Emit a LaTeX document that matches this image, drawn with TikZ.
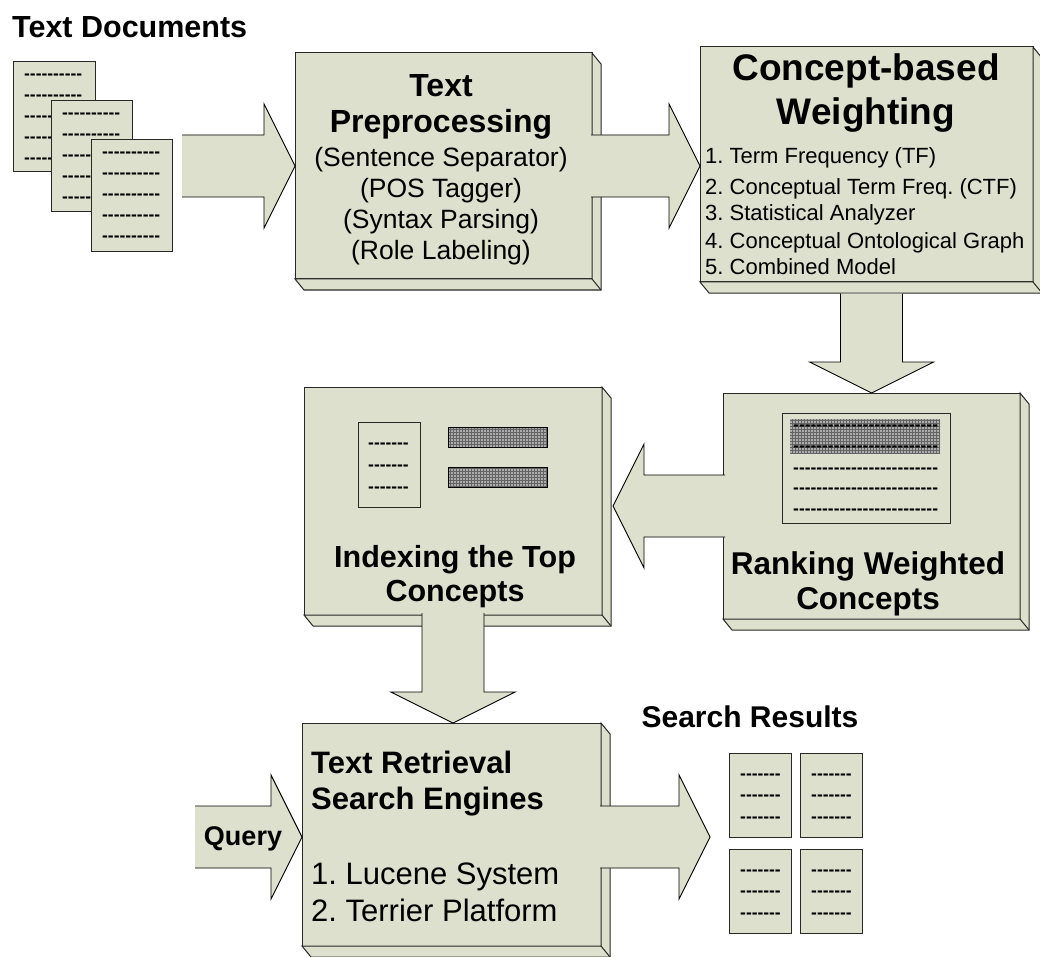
\documentclass[tikz,border=0pt]{standalone}
\usepackage{fontspec}
\setmainfont{Liberation Sans}
\frenchspacing
\usetikzlibrary{calc,fit,patterns}

\definecolor{boxgreen}{RGB}{221,224,204}
\definecolor{edgegray}{RGB}{40,40,40}
\definecolor{meshbase}{RGB}{172,172,172}
\definecolor{meshline}{RGB}{100,100,100}

\newcommand\fs[1]{\fontsize{#1}{#1}\selectfont}
% a row of separate hyphens (the kern keeps them from turning into dashes)
\newcommand\dashes[1]{\foreach\j in {1,...,#1}{-\kern0pt}}

\tikzset{
  cube/.style={draw=edgegray, fill=boxgreen, line width=1pt, inner sep=0pt, outer sep=0pt},
  cubeside/.style={draw=edgegray, fill=boxgreen, line width=1pt, line join=miter},
  page/.style={draw=edgegray, fill=boxgreen, line width=1pt, inner sep=0pt, outer sep=0pt},
  plainframe/.style={draw=edgegray, line width=1pt, inner sep=0pt, outer sep=0pt},
  meshbar/.style={fill=meshbase, inner sep=0pt, outer sep=0pt},
  meshborder/.style={draw=black, line width=0.8pt},
  arrowfill/.style={fill=boxgreen},
  arrowline/.style={draw=black, line width=0.9pt, line join=miter},
  dashrow/.style={inner sep=0pt, anchor=base west, font=\fs{17.4}\bfseries},
  lbl/.style={inner sep=0pt, anchor=base},
}

% extruded side and bottom faces of a box node
\newcommand\cubedepth[1]{%
  \path[cubeside] (#1.north east) -- ($(#1.north east)+(9,11)$) -- ($(#1.south east)+(9,11)$)
    -- ($(#1.south west)+(9,11)$) -- (#1.south west) -- (#1.south east) -- cycle;
  \draw[cubeside, fill=none] (#1.south east) -- ($(#1.south east)+(9,11)$);
}

% wide block arrow from a tail point to a tip point
\newcommand\blockarrow[2]{%
  \coordinate (ba-base) at ($(#2)!31pt!(#1)$);
  \path[arrowfill] ($(#1)!31pt!90:(#2)$) -- ($(ba-base)!31pt!90:(#2)$) -- ($(ba-base)!62pt!90:(#2)$)
    -- (#2) -- ($(ba-base)!62pt!-90:(#2)$) -- ($(ba-base)!31pt!-90:(#2)$) -- ($(#1)!31pt!-90:(#2)$) -- cycle;
  \path[arrowline] ($(#1)!31pt!90:(#2)$) -- ($(ba-base)!31pt!90:(#2)$) -- ($(ba-base)!62pt!90:(#2)$)
    -- (#2) -- ($(ba-base)!62pt!-90:(#2)$) -- ($(ba-base)!31pt!-90:(#2)$) -- ($(#1)!31pt!-90:(#2)$);
}

% a page with rows of dashes: name, corners, first row offset, row step, rows, dashes per row
\newcommand\docpage[9]{%
  \node[page, fit={(#2,#3) (#4,#5)}] (#1) {};
  \foreach \k in {1,...,#8}
    \node[dashrow] (#1-\k) at ($(#1.north west)+(11,{#6+(\k-1)*#7+5})$) {\dashes{#9}};
}

% a stacked page whose lower rows run under the next page: name, corners
\newcommand\stackpage[5]{%
  \node[page, fit={(#2,#3) (#4,#5)}] (#1) {};
  \foreach \k/\n in {1/10,2/10,3/5,4/5,5/5}
    \node[dashrow] (#1-\k) at ($(#1.north west)+(11,{13+(\k-1)*20.8+5})$) {\dashes{\n}};
}

% a grey mesh bar
\newcommand\meshbar[6]{% name, corners, extra drawing
  \node[meshbar, fit={(#2,#3) (#4,#5)}] (#1) {};
  \fill[pattern=grid, pattern color=meshline] (#1.south west) rectangle (#1.north east);
  #6
}

\begin{document}
\begin{tikzpicture}[x=1pt,y=-1pt]
\useasboundingbox (0,0) rectangle (1040,957);
\fill[white] (0,0) rectangle (1040,957);

% ---- input documents ----
\node[lbl, anchor=base west, font=\fs{30.5}\bfseries] (docs-title) at (12,38) {Text Documents};
\stackpage{doc-a}{13}{62}{95}{172}
\stackpage{doc-b}{51}{101}{132}{212}
\docpage{doc-c}{91}{140}{172}{252}{13}{20.8}{5}{10}

% ---- processing boxes ----
\node[cube, fit={(295,53) (592,279)}] (pre) {};
\cubedepth{pre}
\node[cube, fit={(700,47) (1033,282)}] (con) {};
\cubedepth{con}
\node[cube, fit={(723,393) (1020,619)}] (rank) {};
\cubedepth{rank}
\node[cube, fit={(304,387) (602,615)}] (idx) {};
\cubedepth{idx}
\node[cube, fit={(302,723) (601,946)}] (tr) {};
\cubedepth{tr}

% ---- connectors ----
\coordinate (docs-out) at (182,166);
\blockarrow{docs-out}{pre.west}

\coordinate (pre-out) at ($(pre.east)+(-1,0)$);
\coordinate (con-in) at (con.west |- pre.east);
\blockarrow{pre-out}{con-in}

\coordinate (con-out) at ($(rank.north |- con.south)+(0,11.5)$);
\blockarrow{con-out}{rank.north}

\coordinate (rank-out) at ($(rank.west)+(2,0)$);
\coordinate (idx-in) at ($(idx.east |- rank.west)+(11,0)$);
\blockarrow{rank-out}{idx-in}

\coordinate (idx-out) at ($(idx.south)+(0,-2)$);
\coordinate (tr-in) at (idx.south |- tr.north);
\blockarrow{idx-out}{tr-in}

\coordinate (q-tail) at (195,837);
\coordinate (q-tip) at (tr.west |- q-tail);
\blockarrow{q-tail}{q-tip}

\coordinate (tr-out) at ($(tr.east |- q-tail)+(-1,0)$);
\coordinate (res-in) at (710,837);
\blockarrow{tr-out}{res-in}

% ---- Text Preprocessing ----
\node[lbl, font=\fs{32}\bfseries] (pre-t1) at (441,96.5) {Text};
\node[lbl, font=\fs{32}\bfseries] (pre-t2) at (441,132.5) {Preprocessing};
\node[lbl, font=\fs{26.5}] (pre-l1) at (441,166.5) {(Sentence Separator)};
\node[lbl, font=\fs{26.5}] (pre-l2) at (441,197.5) {(POS Tagger)};
\node[lbl, font=\fs{26.5}] (pre-l3) at (441,228.5) {(Syntax Parsing)};
\node[lbl, font=\fs{26.5}] (pre-l4) at (441,259.5) {(Role Labeling)};

% ---- Concept-based Weighting ----
\node[lbl, font=\fs{37}\bfseries] (con-t1) at (866,81) {Concept-based};
\node[lbl, font=\fs{37}\bfseries] (con-t2) at (866,125) {Weighting};
\node[lbl, anchor=base west, font=\fs{22}] (con-l1) at (705,164) {1. Term Frequency (TF)};
\node[lbl, anchor=base west, font=\fs{22}] (con-l2) at (705,195) {2. Conceptual Term Freq. (CTF)};
\node[lbl, anchor=base west, font=\fs{22}] (con-l3) at (705,221) {3. Statistical Analyzer};
\node[lbl, anchor=base west, font=\fs{22}] (con-l4) at (705,249) {4. Conceptual Ontological Graph};
\node[lbl, anchor=base west, font=\fs{22}] (con-l5) at (705,275) {5. Combined Model};

% ---- Ranking Weighted Concepts ----
\node[plainframe, fit={(782,413) (950,523)}] (rank-list) {};
\meshbar{rank-band}{790}{419}{940}{453}{}
\foreach \r/\yy in {1/425,2/446,3/468,4/488,5/509}
  \node[dashrow] (rank-row-\r) at (793,\yy+5) {\dashes{25}};
\node[lbl, font=\fs{31.5}\bfseries] (rank-t1) at (868,574) {Ranking Weighted};
\node[lbl, font=\fs{31.5}\bfseries] (rank-t2) at (868,609) {Concepts};

% ---- Indexing the Top Concepts ----
\node[plainframe, fit={(358,422) (420,507)}] (idx-doc) {};
\foreach \r/\yy in {1/443,2/465,3/487}
  \node[dashrow] (idx-row-\r) at (368,\yy+5) {\dashes{7}};
\meshbar{idx-bar-a}{448}{427}{547}{447}{\draw[meshborder] (idx-bar-a.south west) rectangle (idx-bar-a.north east);}
\meshbar{idx-bar-b}{448}{467}{547}{487}{\draw[meshborder] (idx-bar-b.south west) rectangle (idx-bar-b.north east);}
\node[lbl, font=\fs{30.5}\bfseries] (idx-t1) at (455,567) {Indexing the Top};
\node[lbl, font=\fs{30.5}\bfseries] (idx-t2) at (455,601) {Concepts};

% ---- Text Retrieval Search Engines ----
\node[lbl, anchor=base west, font=\fs{31}\bfseries] (tr-t1) at (311,773) {Text Retrieval};
\node[lbl, anchor=base west, font=\fs{31}\bfseries] (tr-t2) at (311,809) {Search Engines};
\node[lbl, anchor=base west, font=\fs{31}] (tr-l1) at (311,884) {1. Lucene System};
\node[lbl, anchor=base west, font=\fs{31}] (tr-l2) at (311,921) {2. Terrier Platform};
\node[lbl, font=\fs{27}\bfseries] (query) at (243,845) {Query};

% ---- Search results ----
\node[lbl, font=\fs{30}\bfseries] (res-title) at (750,727) {Search Results};
\docpage{res-a}{729}{753}{791}{837}{21}{21.5}{3}{7}
\docpage{res-b}{800}{753}{862}{837}{21}{21.5}{3}{7}
\docpage{res-c}{729}{849}{791}{933}{21}{21.5}{3}{7}
\docpage{res-d}{800}{849}{862}{933}{21}{21.5}{3}{7}
\end{tikzpicture}
\end{document}
